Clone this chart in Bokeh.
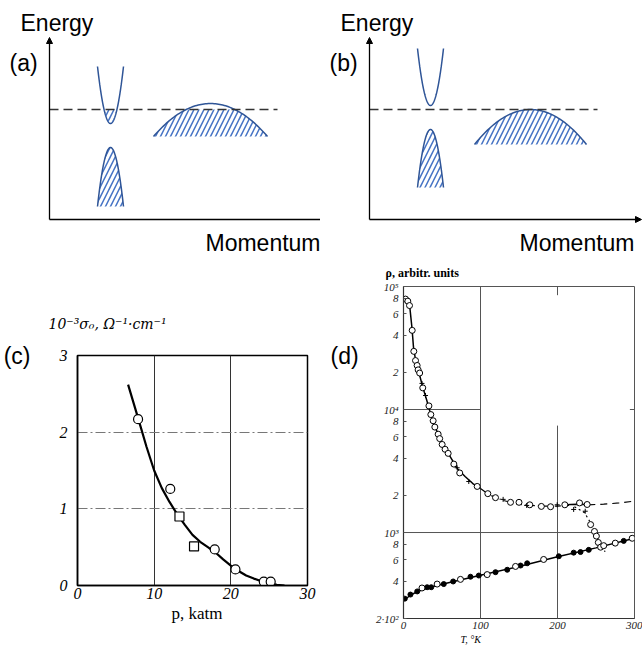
import numpy as np
from bokeh.plotting import figure
from bokeh.models import Range1d, Arrow, NormalHead, Label, FixedTicker, Title, LinearAxis
from bokeh.layouts import column, row
from bokeh.embed import file_html
from bokeh.resources import INLINE

# ---------------- data ----------------
# (a),(b) schematic bands: [k centre, extremum energy, half width, edge energy]
fermi_level = 110
fermi_k_span = [0, 228]
energy_axis_top = 182
cb_a = [61, 96, 13, 153]
vb_a = [61, 72, 13, 13]
hb_a = [161, 116, 57, 83]
cb_b = [61, 114, 13, 171]
vb_b = [61, 90, 13, 32]
hb_b = [161, 110, 56, 75]

# (c) conductivity vs pressure
p_circ = [7.9, 12.1, 17.9, 20.6, 24.3, 25.2]
s_circ = [2.17, 1.26, 0.47, 0.21, 0.05, 0.05]
p_sq = [13.3, 15.2]
s_sq = [0.9, 0.51]
p_fit = [6.6, 8, 9, 10, 11, 12, 13, 14, 15, 16, 17, 18, 19, 20, 21, 22, 23, 24, 25, 26, 27]
s_fit = [2.62, 2.15, 1.81, 1.5, 1.27, 1.09, 0.93, 0.79, 0.66, 0.57, 0.5, 0.43, 0.34, 0.26, 0.19, 0.13, 0.09, 0.055, 0.03, 0.01, 0.0]
c_xticks = [0, 10, 20, 30]
c_yticks = [0, 1, 2, 3]

# (d) resistivity vs temperature
T_up = [2.6, 5.6, 7.8, 11.3, 13.4, 15.6, 17.7, 19, 21, 25, 33, 35.5, 38.5, 40.7, 45, 47, 50.2, 54,
        58, 65.4, 73, 95.7, 109.5, 119.5, 139, 150, 164, 179, 191, 209.5, 228.6, 238.5, 243, 248,
        250.5, 253, 256]
r_up = [7.9e4, 7.6e4, 7.0e4, 4.4e4, 2.97e4, 2.5e4, 2.28e4, 2.1e4, 1.98e4, 1.5e4, 1.07e4, 9.1e3,
        8.1e3, 7.2e3, 6.3e3, 5.8e3, 5.2e3, 4.75e3, 4.4e3, 3.6e3, 3.05e3, 2.37e3, 2.07e3, 1.92e3,
        1.76e3, 1.76e3, 1.68e3, 1.63e3, 1.62e3, 1.68e3, 1.74e3, 1.69e3, 1.16e3, 1.02e3, 935, 830, 760]
T_up_line = [4, 6, 8, 11, 13, 16, 20, 25, 30, 35, 40, 45, 50, 55, 60, 70, 80, 90, 100]
r_up_line = [8.0e4, 7.6e4, 7.0e4, 4.6e4, 3.2e4, 2.45e4, 2.0e4, 1.52e4, 1.2e4, 9.3e3, 7.5e3,
             6.3e3, 5.3e3, 4.7e3, 4.2e3, 3.3e3, 2.85e3, 2.5e3, 2.28e3]
T_up_dash = [100, 110, 120, 130, 140, 150, 160, 180, 200, 215]
r_up_dash = [2.28e3, 2.05e3, 1.92e3, 1.82e3, 1.75e3, 1.7e3, 1.67e3, 1.64e3, 1.64e3, 1.66e3]
T_up_seg = [210, 225, 240]
r_up_seg = [1.68e3, 1.7e3, 1.69e3]
T_tail = [240, 260, 280, 300]
r_tail = [1.68e3, 1.7e3, 1.74e3, 1.8e3]
T_drop = [222, 235, 243, 250, 256, 262]
r_drop = [1.62e3, 1.45e3, 1.2e3, 950, 760, 700]
T_lo_line = [0, 10, 20, 30, 50, 100, 150, 200, 250, 300]
r_lo_line = [280, 312, 335, 352, 380, 450, 530, 635, 750, 900]
T_lo_fill = [1.7, 9, 17.8, 30.7, 36, 52.3, 64.5, 87, 97.8, 119.5, 134.7, 152, 160.6, 201.7, 221,
             229.9, 240.6, 286]
r_lo_fill = [290, 313, 332, 359, 359, 381, 400, 437, 447, 476, 498, 539, 562, 641, 686, 694, 723, 855]
T_lo_open = [24, 43.7, 74, 108.7, 145.5, 182, 260, 275, 297]
r_lo_open = [354, 381, 416, 455, 530, 604, 782, 820, 898]
T_cross = [24, 28.6, 69.7, 84.8, 129.4, 160, 199.6, 221, 236]
r_cross = [1.63e4, 1.3e4, 3.36e3, 2.6e3, 1.86e3, 1.66e3, 1.68e3, 1.54e3, 1.49e3]
d_yticks = [200, 400, 600, 800, 1000, 2000, 4000, 6000, 8000, 10000, 20000, 40000, 60000, 80000, 100000]
d_ylabels = ["2·10²", "4", "6", "8", "10³", "2", "4", "6", "8", "10⁴", "2", "4", "6", "8", "10⁵"]
d_xticks = [0, 100, 200, 300]

LINE = "#2F5597"
HATCH = "#4472C4"
SANS = "Liberation Sans"
SERIF = "Liberation Serif"
DSERIF = "DejaVu Serif"
HATCH_KW = dict(fill_color=None, line_color=None, hatch_pattern="/", hatch_color=HATCH,
                hatch_scale=10, hatch_weight=1.5)


def parabola(b, n=80, e_cut=None):
    k0, e0, hw, ee = b
    span = hw
    if e_cut is not None:
        span = hw * np.sqrt((e_cut - e0) / (ee - e0))
    k = np.linspace(k0 - span, k0 + span, n)
    e = e0 + (ee - e0) * ((k - k0) / hw) ** 2
    return k, e


def schematic(width, xmax, cb, vb, hb, tag, mom_x):
    p = figure(width=width, height=256, x_range=Range1d(-49, width - 49), y_range=Range1d(-37, 219),
               output_backend="svg", toolbar_location=None, min_border=0)
    p.axis.visible = False
    p.grid.visible = False
    p.outline_line_color = None
    p.background_fill_color = "white"
    p.border_fill_color = "white"
    k, e = parabola(vb)
    p.patch(k, e, **HATCH_KW)
    p.line(k, e, color=LINE, line_width=1.5)
    k, e = parabola(cb)
    p.line(k, e, color=LINE, line_width=1.5)
    if cb[1] < fermi_level:
        kf, ef = parabola(cb, e_cut=fermi_level)
        p.patch(kf, ef, **HATCH_KW)
    k, e = parabola(hb)
    p.patch(k, np.minimum(e, fermi_level), **HATCH_KW)
    p.line(k, e, color=LINE, line_width=1.5)
    p.line(fermi_k_span, [fermi_level, fermi_level], color="#333333", line_width=1.5, line_dash="9 5")
    p.add_layout(Arrow(end=NormalHead(size=6, fill_color="black", line_color="black"),
                       x_start=0, y_start=0, x_end=0, y_end=energy_axis_top,
                       line_color="black", line_width=1.3))
    p.add_layout(Arrow(end=NormalHead(size=6, fill_color="black", line_color="black"),
                       x_start=0, y_start=0, x_end=xmax, y_end=0,
                       line_color="black", line_width=1.3))
    p.add_layout(Label(x=-29, y=197, text="Energy", text_font=SANS, text_font_size="23px",
                       text_baseline="middle", text_color="black"))
    p.add_layout(Label(x=-40, y=157, text=tag, text_font=SANS, text_font_size="23px",
                       text_baseline="middle", text_color="black"))
    p.add_layout(Label(x=mom_x, y=-23, text="Momentum", text_font=SANS, text_font_size="23px",
                       text_baseline="middle", text_color="black"))
    return p


pa = schematic(320, 278, cb_a, vb_a, hb_a, "(a)", 156)
pb = schematic(322, 272, cb_b, vb_b, hb_b, "(b)", 150)


def side_title(p, place, text, offset, standoff, size, style="normal", font=SERIF):
    p.add_layout(Title(text=text, align="left", offset=offset, standoff=standoff, text_font=font,
                       text_font_style=style, text_font_size=size, text_color="black"), place)


def tag_style(ax, tag, standoff):
    ax.axis_label = tag
    ax.axis_label_orientation = "horizontal"
    ax.axis_label_align = "end"
    ax.axis_label_standoff = standoff
    ax.axis_label_text_font = SANS
    ax.axis_label_text_font_style = "normal"
    ax.axis_label_text_font_size = "23px"
    ax.axis_label_text_color = "black"


# ---------------- (c) ----------------
pc = figure(width=362, height=390, x_range=Range1d(0, 30), y_range=Range1d(0, 3),
            output_backend="svg", toolbar_location=None,
            min_border_left=76, min_border_right=55, min_border_top=99, min_border_bottom=61)
pc.xgrid.ticker = FixedTicker(ticks=[10, 20])
pc.ygrid.ticker = FixedTicker(ticks=[1, 2])
pc.xgrid.grid_line_color = "#333333"
pc.xgrid.grid_line_width = 1
pc.ygrid.grid_line_color = "#777777"
pc.ygrid.grid_line_width = 1
pc.ygrid.grid_line_dash = "10 3 2 3"
pc.line(p_fit, s_fit, color="black", line_width=2.2)
pc.scatter(p_circ, s_circ, marker="circle", size=9, fill_color="white", line_color="black", line_width=1.2)
pc.scatter(p_sq, s_sq, marker="square", size=9, fill_color="white", line_color="black", line_width=1.2)
pc.xaxis.ticker = FixedTicker(ticks=c_xticks)
pc.yaxis.ticker = FixedTicker(ticks=c_yticks)
pc.axis.major_tick_line_color = None
pc.axis.minor_tick_line_color = None
pc.axis.axis_line_color = "black"
pc.axis.axis_line_width = 1.5
pc.axis.major_label_text_font = SERIF
pc.axis.major_label_text_font_style = "italic"
pc.axis.major_label_text_font_size = "16px"
pc.axis.major_label_text_color = "black"
pc.xaxis.major_label_standoff = -4
pc.yaxis.major_label_standoff = 4
pc.outline_line_color = "black"
pc.outline_line_width = 1.5
tag_style(pc.yaxis[0], "(c)", 26)
# right-hand axis of (c) carries only the "(d)" panel tag
tag_axis = LinearAxis(ticker=FixedTicker(ticks=[]), axis_line_color=None, major_tick_line_color=None,
                      minor_tick_line_color=None)
tag_style(tag_axis, "(d)", 23)
pc.add_layout(tag_axis, "right")
side_title(pc, "above", "10⁻³σ₀, Ω⁻¹·cm⁻¹", -29, 48, "14px", "italic", DSERIF)
side_title(pc, "below", "p, katm", 94, 0, "17px")

# ---------------- (d) ----------------
pd_ = figure(width=280, height=390, x_range=Range1d(0, 300), y_range=Range1d(200, 1e5),
             y_axis_type="log", output_backend="svg", toolbar_location=None,
             min_border_left=41, min_border_right=8, min_border_top=29, min_border_bottom=28)
pd_.grid.visible = False
pd_.segment(x0=[100, 200, 200, 0, 0, 294], y0=[200, 1e5, 7.4e3, 1e4, 1e3, 1e4],
            x1=[100, 200, 200, 100, 300, 300], y1=[1e5, 8.5e4, 200, 1e4, 1e3, 1e4],
            color="#555555", line_width=1)
pd_.line(T_up_line, r_up_line, color="black", line_width=1.5)
pd_.line(T_up_dash, r_up_dash, color="black", line_width=1.2, line_dash="6 3 1 3")
pd_.line(T_up_seg, r_up_seg, color="black", line_width=1.5)
pd_.line(T_tail, r_tail, color="black", line_width=1.2, line_dash="7 5")
pd_.line(T_drop, r_drop, color="black", line_width=1.2, line_dash="2 3")
pd_.line(T_lo_line, r_lo_line, color="black", line_width=1.5)
pd_.scatter(T_up, r_up, marker="circle", size=6, fill_color="white", line_color="black", line_width=1)
pd_.scatter(T_cross, r_cross, marker="cross", size=5, line_color="black", line_width=1)
pd_.scatter(T_lo_fill, r_lo_fill, marker="circle", size=5, fill_color="black", line_color="black")
pd_.scatter(T_lo_open, r_lo_open, marker="circle", size=6, fill_color="white", line_color="black", line_width=1)
pd_.xaxis.ticker = FixedTicker(ticks=d_xticks)
pd_.yaxis.ticker = FixedTicker(ticks=d_yticks)
pd_.yaxis.major_label_overrides = {t: s for t, s in zip(d_yticks, d_ylabels)}
pd_.axis.minor_tick_line_color = None
pd_.axis.major_tick_in = 3
pd_.axis.major_tick_out = 0
pd_.axis.major_tick_line_color = "#555555"
pd_.axis.axis_line_color = "#333333"
pd_.axis.axis_line_width = 1.2
pd_.axis.major_label_text_font = SERIF
pd_.axis.major_label_text_font_style = "italic"
pd_.axis.major_label_text_font_size = "11px"
pd_.axis.major_label_text_color = "#222222"
pd_.xaxis.major_label_standoff = 3
pd_.yaxis.major_label_standoff = 5
pd_.outline_line_color = "#555555"
pd_.outline_line_width = 1
side_title(pd_, "above", "ρ, arbitr. units", -18, 14, "12px", "bold")
side_title(pd_, "below", "T, °K", 57, 0, "10px", "italic")

layout = column(row(pa, pb), row(column(pc), column(pd_)))
open("out.html", "w").write(file_html(layout, INLINE))
